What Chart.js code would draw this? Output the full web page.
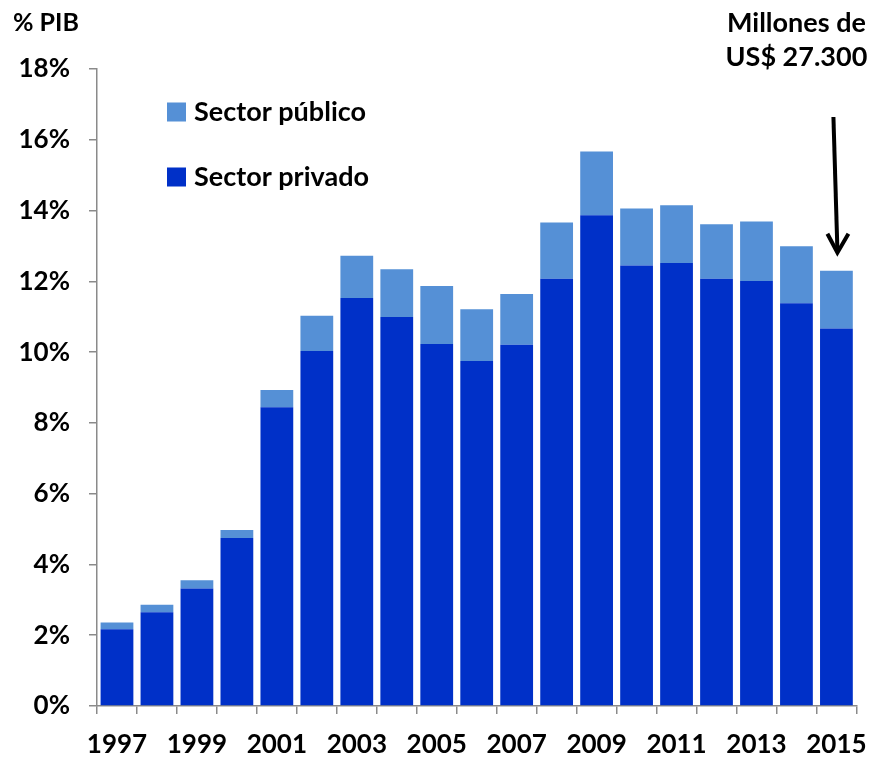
<!DOCTYPE html>
<html>
<head>
<meta charset="utf-8">
<script src="https://cdn.jsdelivr.net/npm/chart.js@4/dist/chart.umd.min.js"></script>
<style>
  html, body { margin: 0; padding: 0; background: #fff; }
  #wrap { width: 882px; height: 760px; position: relative; }
</style>
</head>
<body>
<div id="wrap"><canvas id="c" width="882" height="760"></canvas></div>
<script>
// Inversión en % del PIB, por sector
const years = ['1997','1998','1999','2000','2001','2002','2003','2004','2005','2006',
               '2007','2008','2009','2010','2011','2012','2013','2014','2015'];
const sectorPrivado = [2.17, 2.65, 3.32, 4.75, 8.44, 10.03, 11.53, 10.99, 10.23, 9.75,
                       10.21, 12.07, 13.87, 12.45, 12.52, 12.07, 12.01, 11.38, 10.67];
const sectorPublico = [0.19, 0.21, 0.23, 0.22, 0.49, 1.00, 1.19, 1.35, 1.64, 1.46,
                       1.43, 1.59, 1.80, 1.61, 1.63, 1.54, 1.68, 1.61, 1.63];
const yTicks = [0, 2, 4, 6, 8, 10, 12, 14, 16, 18];
const legendLabels = ['Sector público', 'Sector privado'];
const yAxisTitle = '% PIB';
const noteLines = ['Millones de', 'US$ 27.300'];

const COLOR_PRIV = '#0030C8';
const COLOR_PUB = '#5590D6';
const AXIS = '#8a8a8a';
const FONT = 'Lato, "Open Sans", sans-serif';

const extras = {
  id: 'extras',
  afterDraw(chart) {
    const ctx = chart.ctx;
    const xs = chart.scales.x, ys = chart.scales.y;
    ctx.save();
    ctx.fillStyle = '#000';
    ctx.textBaseline = 'middle';

    // axis caption
    ctx.font = 'bold 25px ' + FONT;
    ctx.textAlign = 'left';
    ctx.fillText(yAxisTitle, 13, 23);

    // legend
    const colors = [COLOR_PUB, COLOR_PRIV];
    const rows = [112, 177];
    ctx.font = 'bold 27px ' + FONT;
    legendLabels.forEach((t, i) => {
      ctx.fillStyle = colors[i];
      ctx.fillRect(167, rows[i] - 9.5, 19, 19);
      ctx.fillStyle = '#000';
      ctx.fillText(t, 194, rows[i]);
    });

    // note on the last year
    const last = years.length - 1;
    const cx = xs.getPixelForValue(last);
    ctx.textAlign = 'center';
    ctx.font = 'bold 27px ' + FONT;
    ctx.fillText(noteLines[0], cx - 40, 23);
    ctx.fillText(noteLines[1], cx - 40, 57);

    // arrow pointing at the last bar
    const top = sectorPrivado[last] + sectorPublico[last];
    const tipY = ys.getPixelForValue(top) - 18;
    const tipX = cx + 1;
    const startX = cx - 3, startY = 117;
    ctx.strokeStyle = '#000';
    ctx.lineWidth = 4;
    ctx.lineCap = 'butt';
    ctx.beginPath();
    ctx.moveTo(startX, startY);
    ctx.lineTo(tipX, tipY - 2);
    ctx.stroke();
    ctx.lineJoin = 'miter';
    ctx.beginPath();
    ctx.moveTo(tipX - 10, tipY - 19);
    ctx.lineTo(tipX, tipY);
    ctx.lineTo(tipX + 11, tipY - 19);
    ctx.stroke();
    ctx.restore();
  }
};

new Chart(document.getElementById('c'), {
  type: 'bar',
  data: {
    labels: years,
    datasets: [
      { label: legendLabels[1], data: sectorPrivado, backgroundColor: COLOR_PRIV,
        borderWidth: 0, barPercentage: 0.82, categoryPercentage: 1 },
      { label: legendLabels[0], data: sectorPublico, backgroundColor: COLOR_PUB,
        borderWidth: 0, barPercentage: 0.82, categoryPercentage: 1 }
    ]
  },
  options: {
    responsive: false,
    animation: false,
    devicePixelRatio: 1,
    layout: { padding: { top: 69, right: 16, left: 0, bottom: 0 } },
    plugins: { legend: { display: false }, tooltip: { enabled: false } },
    scales: {
      x: {
        stacked: true,
        offset: true,
        afterFit(s) { s.height = 54; },
        grid: { offset: true, drawOnChartArea: false, drawTicks: true, tickLength: 8,
                color: AXIS, lineWidth: 1.5 },
        border: { display: true, color: AXIS, width: 1.5 },
        ticks: {
          autoSkip: false, maxRotation: 0, padding: 15, color: '#000',
          font: { family: FONT, size: 26, weight: 'bold' },
          callback(v, i) { return i % 2 === 0 ? years[i] : ''; }
        }
      },
      y: {
        stacked: true,
        min: 0, max: 18,
        afterFit(s) { s.width = 97; },
        afterBuildTicks(s) { s.ticks = yTicks.map(v => ({ value: v })); },
        grid: { drawOnChartArea: false, drawTicks: true, tickLength: 8,
                color: AXIS, lineWidth: 1.5 },
        border: { display: true, color: AXIS, width: 1.5 },
        ticks: {
          padding: 19, color: '#000',
          font: { family: FONT, size: 26, weight: 'bold' },
          callback(v) { return v + '%'; }
        }
      }
    }
  },
  plugins: [extras]
});
</script>
</body>
</html>
